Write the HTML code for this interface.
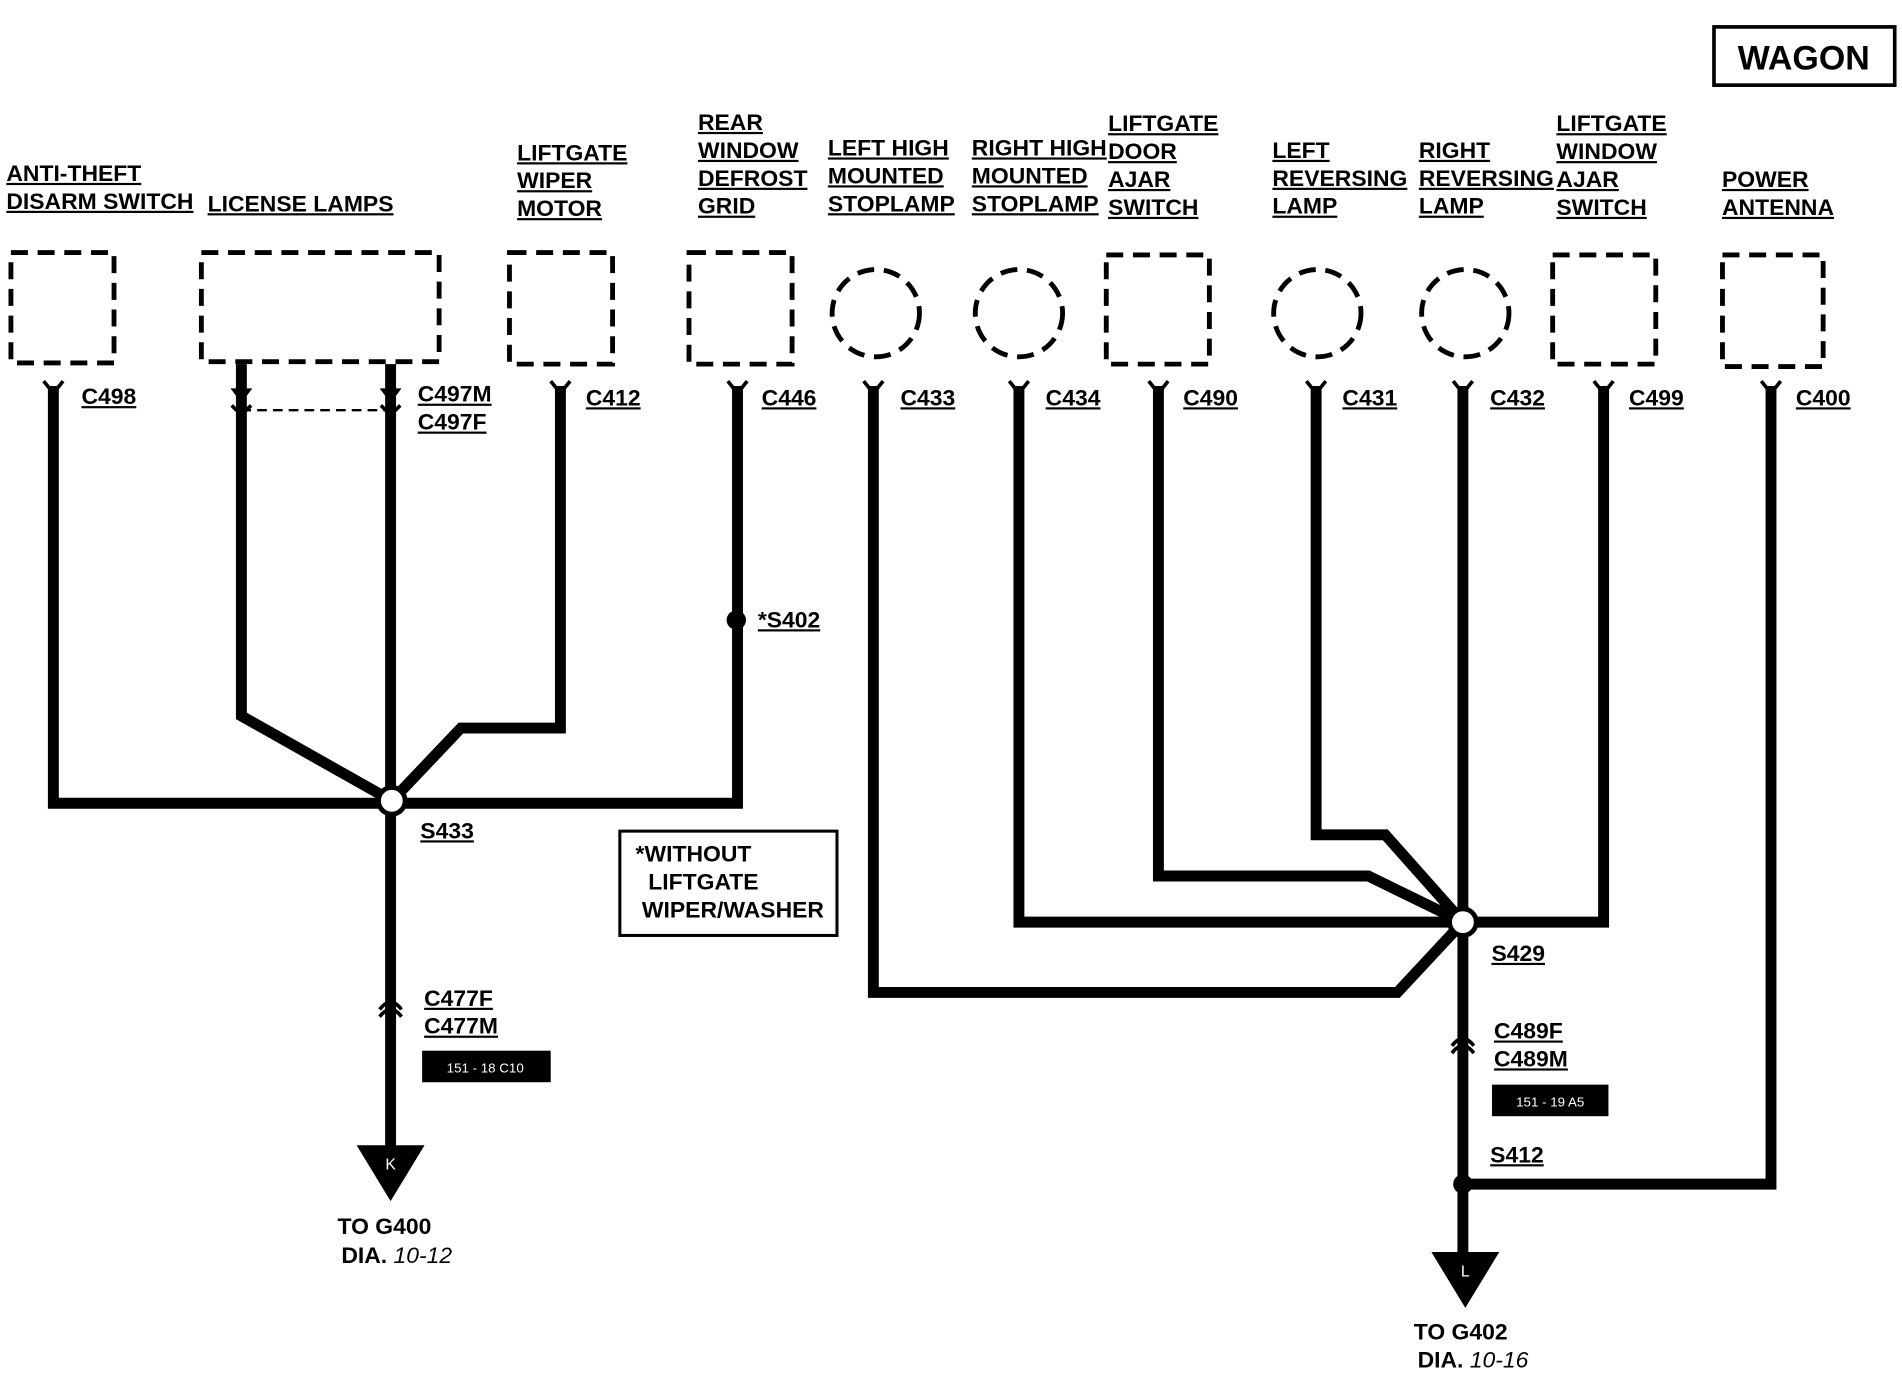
<!DOCTYPE html>
<html><head><meta charset="utf-8"><style>
html,body{margin:0;padding:0;background:#fff;}
svg{display:block;}
text{font-family:"Liberation Sans",sans-serif;font-weight:bold;font-size:18px;fill:#000;}
.u{text-decoration:underline;}
</style></head><body>
<svg width="1902" height="1376" viewBox="0 0 1568 1134" xmlns="http://www.w3.org/2000/svg">
<g fill="none" stroke="#000" stroke-width="4" stroke-dasharray="14,8">
<rect x="9" y="208" width="85" height="91"/>
<rect x="166" y="208" width="196" height="90"/>
<rect x="420" y="208" width="85" height="92"/>
<rect x="568" y="208" width="85" height="92"/>
<rect x="912" y="210" width="85" height="90"/>
<rect x="1280" y="210" width="85" height="90"/>
<rect x="1420" y="210" width="83" height="92"/>
<circle cx="722" cy="258" r="36"/>
<circle cx="840" cy="258" r="36"/>
<circle cx="1086" cy="258" r="36"/>
<circle cx="1208" cy="258" r="36"/>
</g>
<line x1="199" y1="338" x2="322" y2="338" stroke="#000" stroke-width="2" stroke-dasharray="8,5"/>
<g fill="none" stroke="#000" stroke-width="9" stroke-linejoin="miter">
<polyline points="44,318 44,662 608,662 608,318"/>
<polyline points="199,300 199,590 323,660"/>
<line x1="322" y1="300" x2="322" y2="945"/>
<polyline points="462,318 462,600 380,600 323,660"/>
<polyline points="720,318 720,818 1152,818 1206,760"/>
<polyline points="840,318 840,760 1322,760 1322,318"/>
<polyline points="955,318 955,722 1128,722 1206,760"/>
<polyline points="1085,318 1085,688 1142,688 1206,760"/>
<line x1="1206" y1="318" x2="1206" y2="1035"/>
<polyline points="1460,318 1460,976 1206,976"/>
</g>
<g fill="none" stroke="#000" stroke-width="3">
<path d="M36,314 L44,324 L52,314"/>
<path d="M454,314 L462,324 L470,314"/>
<path d="M600,314 L608,324 L616,314"/>
<path d="M712,314 L720,324 L728,314"/>
<path d="M832,314 L840,324 L848,314"/>
<path d="M947,314 L955,324 L963,314"/>
<path d="M1077,314 L1085,324 L1093,314"/>
<path d="M1198,314 L1206,324 L1214,314"/>
<path d="M1314,314 L1322,324 L1330,314"/>
<path d="M1452,314 L1460,324 L1468,314"/>
<path d="M191,334 L199,342 L207,334"/>
<path d="M314,334 L322,342 L330,334"/>
<path d="M313,832 Q322,820 331,832"/>
<path d="M313,838 Q322,826 331,838"/>
<path d="M1197,862 Q1206,850 1215,862"/>
<path d="M1197,868 Q1206,856 1215,868"/>
</g>
<polygon points="190,320 208,320 199,332" fill="#000"/>
<polygon points="313,320 331,320 322,332" fill="#000"/>
<circle cx="323" cy="660" r="11" fill="#fff" stroke="#000" stroke-width="4"/>
<circle cx="1206" cy="760" r="11" fill="#fff" stroke="#000" stroke-width="4"/>
<circle cx="607" cy="511" r="8" fill="#000"/>
<circle cx="1206" cy="976" r="8" fill="#000"/>
<polygon points="294,944 350,944 322,990" fill="#000"/>
<polygon points="1180,1032 1236,1032 1208,1078" fill="#000"/>
<text x="322" y="964" text-anchor="middle" style="fill:#fff;font-size:13px;font-weight:normal">K</text>
<text x="1208" y="1052" text-anchor="middle" style="fill:#fff;font-size:13px;font-weight:normal">L</text>
<rect x="348" y="866" width="106" height="26" fill="#000"/>
<text x="400" y="884" text-anchor="middle" style="fill:#fff;font-size:11px;font-weight:normal">151 - 18 C10</text>
<rect x="1230" y="894" width="96" height="26" fill="#000"/>
<text x="1278" y="912" text-anchor="middle" style="fill:#fff;font-size:11px;font-weight:normal">151 - 19 A5</text>
<rect x="1413" y="22" width="149" height="48" fill="none" stroke="#000" stroke-width="3"/>
<text x="1487" y="57" text-anchor="middle" style="font-size:28px">WAGON</text>
<rect x="511" y="685" width="179" height="86" fill="none" stroke="#000" stroke-width="2.5"/>
<g transform="scale(1.05,1)">
<text x="499" y="710">*WITHOUT</text>
<text x="509" y="733">LIFTGATE</text>
<text x="504" y="756">WIPER/WASHER</text>
<text class="u" x="5" y="149">ANTI-THEFT</text>
<text class="u" x="5" y="172">DISARM SWITCH</text>
<text class="u" x="163" y="174">LICENSE LAMPS</text>
<text class="u" x="406" y="132">LIFTGATE</text>
<text class="u" x="406" y="155">WIPER</text>
<text class="u" x="406" y="178">MOTOR</text>
<text class="u" x="548" y="107">REAR</text>
<text class="u" x="548" y="130">WINDOW</text>
<text class="u" x="548" y="153">DEFROST</text>
<text class="u" x="548" y="176">GRID</text>
<text class="u" x="650" y="128">LEFT HIGH</text>
<text class="u" x="650" y="151">MOUNTED</text>
<text class="u" x="650" y="174">STOPLAMP</text>
<text class="u" x="763" y="128">RIGHT HIGH</text>
<text class="u" x="763" y="151">MOUNTED</text>
<text class="u" x="763" y="174">STOPLAMP</text>
<text class="u" x="870" y="108">LIFTGATE</text>
<text class="u" x="870" y="131">DOOR</text>
<text class="u" x="870" y="154">AJAR</text>
<text class="u" x="870" y="177">SWITCH</text>
<text class="u" x="999" y="130">LEFT</text>
<text class="u" x="999" y="153">REVERSING</text>
<text class="u" x="999" y="176">LAMP</text>
<text class="u" x="1114" y="130">RIGHT</text>
<text class="u" x="1114" y="153">REVERSING</text>
<text class="u" x="1114" y="176">LAMP</text>
<text class="u" x="1222" y="108">LIFTGATE</text>
<text class="u" x="1222" y="131">WINDOW</text>
<text class="u" x="1222" y="154">AJAR</text>
<text class="u" x="1222" y="177">SWITCH</text>
<text class="u" x="1352" y="154">POWER</text>
<text class="u" x="1352" y="177">ANTENNA</text>
<text class="u" x="64" y="333">C498</text>
<text class="u" x="328" y="331">C497M</text>
<text class="u" x="328" y="354">C497F</text>
<text class="u" x="460" y="334">C412</text>
<text class="u" x="598" y="334">C446</text>
<text class="u" x="707" y="334">C433</text>
<text class="u" x="821" y="334">C434</text>
<text class="u" x="929" y="334">C490</text>
<text class="u" x="1054" y="334">C431</text>
<text class="u" x="1170" y="334">C432</text>
<text class="u" x="1279" y="334">C499</text>
<text class="u" x="1410" y="334">C400</text>
<text class="u" x="595" y="517">*S402</text>
<text class="u" x="330" y="691">S433</text>
<text class="u" x="1171" y="792">S429</text>
<text class="u" x="333" y="829">C477F</text>
<text class="u" x="333" y="852">C477M</text>
<text class="u" x="1173" y="856">C489F</text>
<text class="u" x="1173" y="879">C489M</text>
<text class="u" x="1170" y="958">S412</text>
<text x="265" y="1017">TO G400</text>
<text x="268" y="1041">DIA. <tspan style="font-style:italic;font-weight:normal">10-12</tspan></text>
<text x="1110" y="1104">TO G402</text>
<text x="1113" y="1127">DIA. <tspan style="font-style:italic;font-weight:normal">10-16</tspan></text>
</g>
</svg>
</body></html>
